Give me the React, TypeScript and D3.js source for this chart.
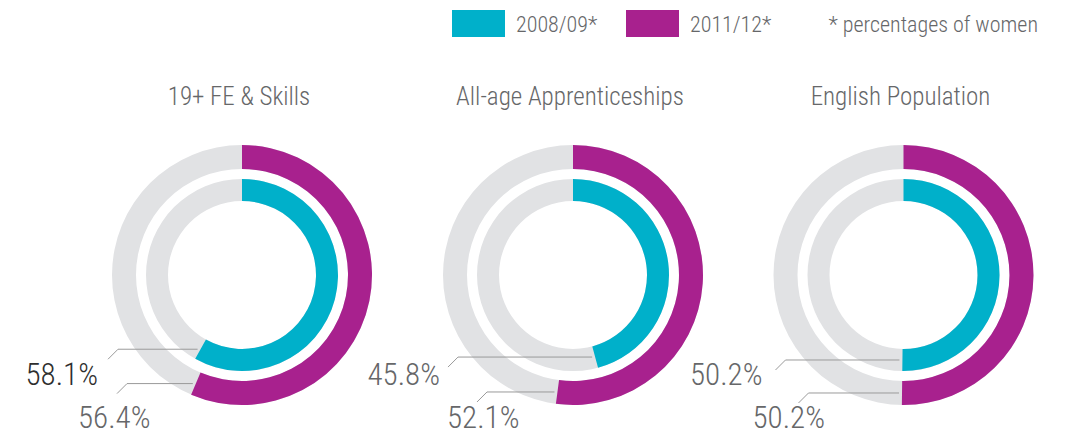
import React from "react";
import * as d3 from "d3";

// ---- data ----
const categories = ["19+ FE & Skills", "All-age Apprenticeships", "English Population"];
const series2008 = [58.1, 45.8, 50.2]; // inner ring, 2008/09
const series2011 = [56.4, 52.1, 50.2]; // outer ring, 2011/12
const legendLabels = ["2008/09*", "2011/12*"];
const footnote = "* percentages of women";

// ---- layout / style ----
const W = 1081;
const H = 436;
const CY = 275;
const centersX = [242, 573, 903.5];
const OUTER = { r0: 106, r1: 130 };
const INNER = { r0: 74, r1: 96 };
const COL_2008 = "#00b0ca";
const COL_2011 = "#a8218e";
const COL_TRACK = "#e1e2e4";
const COL_TEXT = "#666769";
const COL_LINE = "#9a9a9a";
const FONT = "'Roboto Condensed', 'Liberation Sans Narrow', 'DejaVu Sans Condensed', 'Liberation Sans', sans-serif";
const WEIGHT = 300;

// per-chart label placement offsets (relative to chart centre)
const labelLayout = [
  { innerElbow: -124, innerTextEnd: -144, outerElbow: -115, outerTextStart: -164, innerDark: true },
  { innerElbow: -115, innerTextEnd: -133, outerElbow: -86, outerTextStart: -126, innerDark: false },
  { innerElbow: -118, innerTextEnd: -141, outerElbow: -95, outerTextStart: -151, innerDark: false },
];

const TAU = Math.PI * 2;
const angle = d3.scaleLinear().domain([0, 100]).range([0, TAU]);

function Donut({ i }: { i: number }) {
  const cx = centersX[i];
  const lay = labelLayout[i];
  const arcOuter = d3.arc<any>().innerRadius(OUTER.r0).outerRadius(OUTER.r1);
  const arcInner = d3.arc<any>().innerRadius(INNER.r0).outerRadius(INNER.r1);
  const aIn = angle(series2008[i]);
  const aOut = angle(series2011[i]);

  const rMidIn = (INNER.r0 + INNER.r1) / 2;
  const rMidOut = (OUTER.r0 + OUTER.r1) / 2;
  const endIn = { x: Math.sin(aIn) * rMidIn, y: -Math.cos(aIn) * rMidIn };
  const endOut = { x: Math.sin(aOut) * rMidOut, y: -Math.cos(aOut) * rMidOut };

  const lineIn = d3.line()([
    [endIn.x - 3, endIn.y],
    [lay.innerElbow, endIn.y],
    [lay.innerElbow - 10, endIn.y + 10],
  ]);
  const lineOut = d3.line()([
    [endOut.x - 3, endOut.y],
    [lay.outerElbow, endOut.y],
    [lay.outerElbow - 10, endOut.y + 10],
  ]);

  return (
    <g transform={`translate(${cx},${CY})`}>
      <text x={-3} y={105 - CY} textAnchor="middle" fontSize={25} fontWeight={WEIGHT} fill={COL_TEXT} fontFamily={FONT}>
        {categories[i]}
      </text>
      <path d={arcOuter({ startAngle: 0, endAngle: TAU }) || ""} fill={COL_TRACK} />
      <path d={arcInner({ startAngle: 0, endAngle: TAU }) || ""} fill={COL_TRACK} />
      <path d={lineIn || ""} fill="none" stroke={COL_LINE} strokeWidth={1} />
      <path d={lineOut || ""} fill="none" stroke={COL_LINE} strokeWidth={1} />
      <path d={arcOuter({ startAngle: 0, endAngle: aOut }) || ""} fill={COL_2011} />
      <path d={arcInner({ startAngle: 0, endAngle: aIn }) || ""} fill={COL_2008} />
      <text
        x={lay.innerTextEnd}
        y={385 - CY}
        textAnchor="end"
        fontSize={31}
        fontWeight={WEIGHT}
        fill={lay.innerDark ? "#2e2e2e" : COL_TEXT}
        fontFamily={FONT}
      >
        {series2008[i].toFixed(1)}%
      </text>
      <text
        x={lay.outerTextStart}
        y={428 - CY}
        textAnchor="start"
        fontSize={31}
        fontWeight={WEIGHT}
        fill={COL_TEXT}
        fontFamily={FONT}
      >
        {series2011[i].toFixed(1)}%
      </text>
    </g>
  );
}

export default function App() {
  return (
    <svg width={W} height={H} style={{ position: "absolute", left: 0, top: 0, background: "#fff" }}>
      {/* legend */}
      <rect x={452} y={10} width={53} height={27} fill={COL_2008} />
      <text x={516} y={32} fontSize={22} fontWeight={WEIGHT} fill={COL_TEXT} fontFamily={FONT}>
        {legendLabels[0]}
      </text>
      <rect x={626} y={10} width={53} height={27} fill={COL_2011} />
      <text x={690} y={32} fontSize={22} fontWeight={WEIGHT} fill={COL_TEXT} fontFamily={FONT}>
        {legendLabels[1]}
      </text>
      <text x={1038} y={32} textAnchor="end" fontSize={22} fontWeight={WEIGHT} fill={COL_TEXT} fontFamily={FONT}>
        {footnote}
      </text>
      {categories.map((_, i) => (
        <Donut key={i} i={i} />
      ))}
    </svg>
  );
}
